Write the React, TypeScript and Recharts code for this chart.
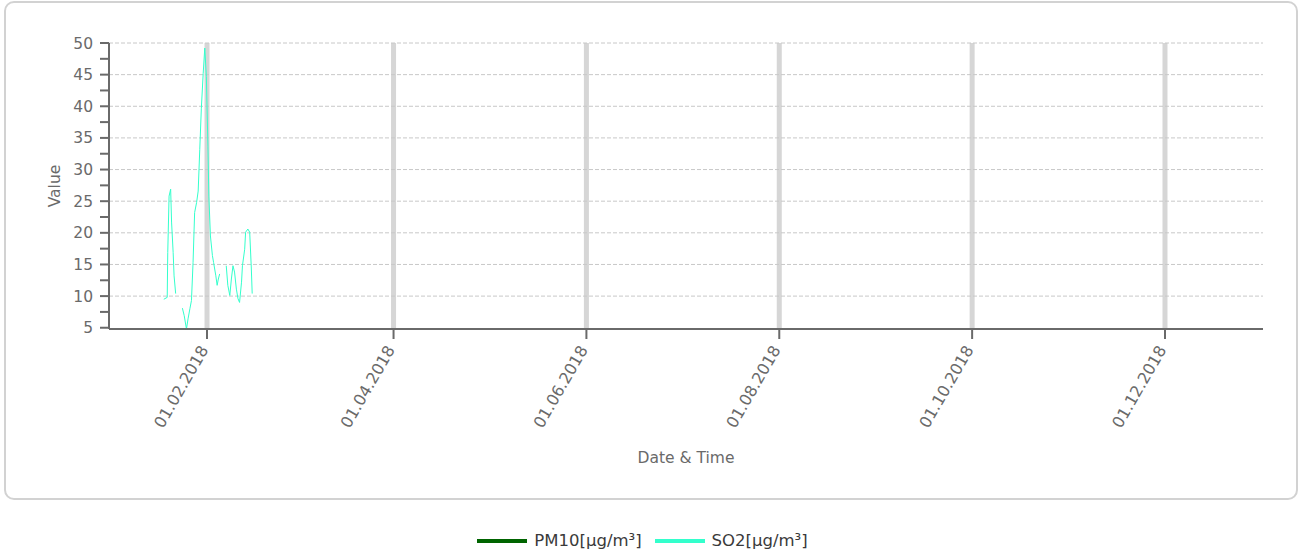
import { LineChart, Line, XAxis, YAxis, CartesianGrid, Legend } from 'recharts';

const times = [
  '2018-01-18T08:00', '2018-01-19T10:00', '2018-01-19T14:00', '2018-01-20T00:00', '2018-01-20T12:00',
  '2018-01-20T19:00', '2018-01-21T07:00', '2018-01-21T14:00', '2018-01-22T02:00', '2018-01-22T14:00',
  '2018-01-24T05:00', '2018-01-24T19:00', '2018-01-25T12:00', '2018-01-26T00:00', '2018-01-26T14:00',
  '2018-01-27T02:00', '2018-01-27T14:00', '2018-01-28T02:00', '2018-01-28T17:00', '2018-01-29T05:00',
  '2018-01-29T17:00', '2018-01-30T05:00', '2018-01-30T19:00', '2018-01-31T07:00', '2018-01-31T19:00',
  '2018-02-01T07:00', '2018-02-01T14:00', '2018-02-02T02:00', '2018-02-02T17:00', '2018-02-03T02:00',
  '2018-02-03T19:00', '2018-02-04T05:00', '2018-02-04T14:00', '2018-02-05T00:00', '2018-02-05T12:00',
  '2018-02-07T02:00', '2018-02-07T14:00', '2018-02-08T05:00', '2018-02-08T17:00', '2018-02-09T05:00',
  '2018-02-09T17:00', '2018-02-10T07:00', '2018-02-10T19:00', '2018-02-11T07:00', '2018-02-11T22:00',
  '2018-02-12T05:00', '2018-02-12T22:00', '2018-02-13T05:00', '2018-02-13T22:00', '2018-02-14T12:00',
  '2018-02-15T00:00', '2018-02-15T07:00',
];

const so2Values: (number | null)[] = [
  9.5, 9.8, 16.9, 25.8, 26.9,
  21.7, 16.9, 13.2, 10.4, null,
  8.1, 6.9, 4.8, 6.4, 8.0,
  9.3, 15.3, 23.2, 24.8, 26.6,
  33.2, 39.7, 45.2, 49.2, 44.7,
  33.7, 25.8, 19.5, 16.4, 15.3,
  13.2, 11.7, 12.7, 13.5, null,
  14.8, 11.7, 10.1, 12.7, 14.8,
  13.8, 11.1, 9.6, 9.0, 12.2,
  14.8, 17.4, 20.1, 20.6, 20.1,
  14.6, 10.4,
];

// no PM10 values in this period
const pm10Values: (number | null)[] = times.map(() => null);

const xTicks = ['2018-02-01', '2018-04-01', '2018-06-01', '2018-08-01', '2018-10-01', '2018-12-01'];
const yTicks = [5, 7.5, 10, 12.5, 15, 17.5, 20, 22.5, 25, 27.5, 30, 32.5, 35, 37.5, 40, 42.5, 45, 47.5, 50];
const gridValues = [10, 15, 20, 25, 30, 35, 40, 45, 50];

const seriesNames = { pm10: 'PM10[µg/m³]', so2: 'SO2[µg/m³]' };
const seriesColors = { pm10: '#006400', so2: '#33FFCC' };

const toMs = (s: string) => Date.parse(s + (s.length > 10 ? ':00Z' : 'T00:00:00Z'));

const data = times.map((t, i) => ({ t: toMs(t), pm10: pm10Values[i], so2: so2Values[i] }));

const fmtDate = (v: number) => {
  const d = new Date(v);
  const dd = String(d.getUTCDate()).padStart(2, '0');
  const mm = String(d.getUTCMonth() + 1).padStart(2, '0');
  return `${dd}.${mm}.${d.getUTCFullYear()}`;
};

const font = '"DejaVu Sans", sans-serif';
const axisColor = '#6a6a6a';
const textColor = '#6a6a6a';

const AngledTick = ({ x, y, payload }: any) => (
  <g transform={`translate(${x - 3},${y + 6})`}>
    <text x={0} y={0} dy="0.35em" textAnchor="end" transform="rotate(-60)" fill={textColor} fontSize={16} fontFamily={font}>
      {fmtDate(payload.value)}
    </text>
  </g>
);

const XLabel = ({ viewBox }: any) => (
  <text
    x={viewBox.x + viewBox.width / 2}
    y={viewBox.y + viewBox.height - 6}
    textAnchor="middle"
    dominantBaseline="central"
    fill={textColor}
    fontSize={15.5}
    fontFamily={font}
  >
    Date &amp; Time
  </text>
);

const YLabel = ({ viewBox }: any) => {
  const cx = viewBox.x + 6;
  const cy = viewBox.y + viewBox.height / 2;
  return (
    <text
      x={cx}
      y={cy}
      transform={`rotate(-90, ${cx}, ${cy})`}
      textAnchor="middle"
      dominantBaseline="central"
      fill={textColor}
      fontSize={15.5}
      fontFamily={font}
    >
      Value
    </text>
  );
};

const LegendContent = () => (
  <div style={{ display: 'flex', justifyContent: 'center', alignItems: 'center', fontFamily: font, fontSize: 16.5, color: '#3a3a3a' }}>
    {(['pm10', 'so2'] as const).map((k) => (
      <div key={k} style={{ display: 'flex', alignItems: 'center', marginRight: 13 }}>
        <div style={{ width: 50, height: 4, background: seriesColors[k], marginRight: 7 }} />
        <span>{seriesNames[k]}</span>
      </div>
    ))}
  </div>
);

const App = () => {
  return (
    <div style={{ position: 'absolute', left: 0, top: 0, width: 1298, height: 555, background: '#fff' }}>
      <div
        style={{
          position: 'absolute', left: 4, top: 1, width: 1290, height: 495,
          border: '2px solid #d2d2d2', borderRadius: 10,
        }}
      />
      <LineChart
        width={1298}
        height={555}
        data={data}
        margin={{ top: 43, right: 35, left: 49, bottom: 91 }}
        style={{ position: 'absolute', left: 0, top: 0 }}
      >
        <CartesianGrid horizontal={false} vertical verticalValues={xTicks.map(toMs)} stroke="#d6d6d6" strokeWidth={5} />
        <CartesianGrid vertical={false} horizontalValues={gridValues} stroke="#c8c8c8" strokeDasharray="4 2" />
        <XAxis
          dataKey="t"
          type="number"
          scale="time"
          domain={[toMs('2018-01-01'), toMs('2019-01-01')]}
          ticks={xTicks.map(toMs)}
          tick={<AngledTick />}
          tickSize={10}
          stroke={axisColor}
          strokeWidth={2}
          height={135}
          label={<XLabel />}
        />
        <YAxis
          type="number"
          domain={[5, 50]}
          ticks={yTicks}
          interval={0}
          tickFormatter={(v: number) => (v % 5 === 0 ? String(v) : '')}
          tickSize={9}
          tickMargin={7}
          tick={{ fill: textColor, fontSize: 15.5, fontFamily: font }}
          stroke={axisColor}
          strokeWidth={2}
          width={60}
          label={<YLabel />}
        />
        <Legend
          verticalAlign="middle"
          layout="horizontal"
          content={<LegendContent />}
          wrapperStyle={{ top: 531, left: 0, width: 1298 }}
        />
        <Line
          dataKey="pm10"
          name={seriesNames.pm10}
          stroke={seriesColors.pm10}
          strokeWidth={1}
          dot={false}
          connectNulls={false}
          isAnimationActive={false}
        />
        <Line
          dataKey="so2"
          name={seriesNames.so2}
          stroke={seriesColors.so2}
          strokeWidth={1}
          dot={false}
          connectNulls={false}
          isAnimationActive={false}
        />
      </LineChart>
    </div>
  );
};

export default App;
